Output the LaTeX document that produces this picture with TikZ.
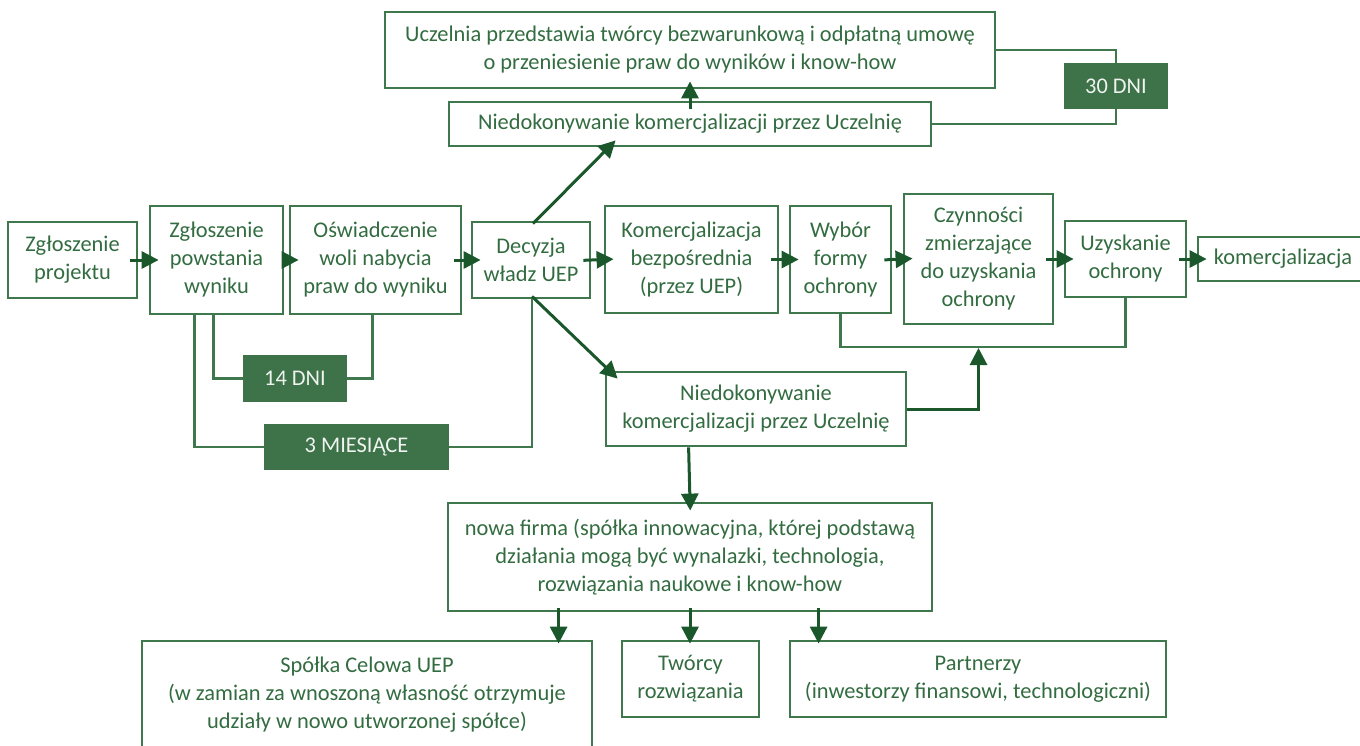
\documentclass[tikz,border=0pt]{standalone}
\usepackage{fontspec}
\setmainfont{Carlito}
\usetikzlibrary{arrows.meta,calc}
\definecolor{bord}{RGB}{62,120,76}
\definecolor{fillg}{RGB}{62,114,72}
\definecolor{arrc}{RGB}{26,88,44}
\definecolor{txt}{RGB}{50,108,64}
\begin{document}
\begin{tikzpicture}[x=0.5pt,y=-0.5pt,
  font=\fontsize{11.2pt}{14pt}\selectfont,
  box/.style={draw=bord,line width=1.4pt,text=txt,align=center,inner sep=0pt},
  dbox/.style={fill=fillg,text=white!92!fillg,align=center,inner sep=0pt},
  conn/.style={draw=bord,line width=1.3pt},
  arr/.style={draw=arrc,line width=1.5pt,-{Triangle[length=8.5pt,width=8.5pt]}},
  harr/.style={arr,shorten <=-4pt,shorten >=-5pt}]
\useasboundingbox (0,0) rectangle (1360,745);
% main row
\node[box,minimum width=64.5pt,minimum height=38pt] (A) at (72.5,260) {Zgłoszenie\\projektu};
\node[box,minimum width=66.5pt,minimum height=54pt] (B) at (216.5,260) {Zgłoszenie\\powstania\\wyniku};
\node[box,minimum width=85.5pt,minimum height=54pt] (C) at (375.5,260) {Oświadczenie\\woli nabycia\\praw do wyniku};
\node[box,minimum width=59pt,minimum height=38pt] (D) at (531,260) {Decyzja\\władz UEP};
\node[box,minimum width=86.5pt,minimum height=53.5pt] (E) at (691.5,259.5) {Komercjalizacja\\bezpośrednia\\(przez UEP)};
\node[box,minimum width=50.5pt,minimum height=53.5pt] (F) at (840.5,259.5) {Wybór\\formy\\ochrony};
\node[box,minimum width=74.5pt,minimum height=65pt] (G) at (978.5,259) {Czynności\\zmierzające\\do uzyskania\\ochrony};
\node[box,minimum width=60.5pt,minimum height=38pt] (H) at (1125.5,259) {Uzyskanie\\ochrony};
\node[box,minimum width=85pt,minimum height=22pt] (I) at (1283,259) {komercjalizacja};
% top
\node[box,minimum width=305pt,minimum height=38pt] (T) at (690,50) {Uczelnia przedstawia twórcy bezwarunkową i odpłatną umowę\\o przeniesienie praw do wyników i know-how};
\node[box,minimum width=241pt,minimum height=22pt] (N1) at (690,124) {Niedokonywanie komercjalizacji przez Uczelnię};
\node[dbox,minimum width=52pt,minimum height=23pt] (D30) at (1116,86) {30 DNI};
% deadlines
\node[dbox,minimum width=52pt,minimum height=23.5pt] (D14) at (295,378.5) {14 DNI};
\node[dbox,minimum width=92.5pt,minimum height=23pt] (M3) at (356.5,447) {3 MIESIĄCE};
% lower
\node[box,minimum width=150pt,minimum height=37pt] (N2) at (756,409) {Niedokonywanie\\komercjalizacji przez Uczelnię};
\node[box,minimum width=242pt,minimum height=54pt] (NF) at (690,557) {nowa firma (spółka innowacyjna, której podstawą\\działania mogą być wynalazki, technologia,\\rozwiązania naukowe i know-how};
\node[box,minimum width=225pt,minimum height=53.5pt] (S) at (367,694.5) {Spółka Celowa UEP\\(w zamian za wnoszoną własność otrzymuje\\udziały w nowo utworzonej spółce)};
\node[box,minimum width=68.5pt,minimum height=38pt] (Tw) at (690.5,679) {Twórcy\\rozwiązania};
\node[box,minimum width=188pt,minimum height=38pt] (P) at (978,679) {Partnerzy\\(inwestorzy finansowi, technologiczni)};
% horizontal arrows
\draw[harr] (A.east) -- (B.west);
\draw[harr] (B.east) -- (C.west);
\draw[harr] (C.east) -- (D.west);
\draw[harr] (D.east) -- (E.west);
\draw[harr] (E.east) -- (F.west);
\draw[harr] (F.east) -- (G.west);
\draw[harr] (G.east) -- (H.west);
\draw[harr] (H.east) -- (I.west);
% deadline connectors
\coordinate (b14) at ($(B.south west)+(65,0)$);
\coordinate (c14) at ($(C.south west)+(84,0)$);
\coordinate (b3) at ($(B.south west)+(46,0)$);
\draw[conn] (b14) |- (D14.west);
\draw[conn] (c14) |- (D14.east);
\draw[conn] (b3) |- (M3.west);
\draw[conn] ($(D.south)+(1,0)$) |- (M3.east);
\draw[conn] (T.east) -| (D30.north);
\draw[conn] (N1.east) -| (D30.south);
% top arrows
\draw[arr] ($(N1.north)+(0,8)$) -- ($(T.south)+(0,-8)$);
\draw[arr] ($(D.north)+(2,3)$) -- ($(N1.south west)+(168,-7)$);
% lower diagonal
\draw[arr] ($(D.south)+(1,-3)$) -- ($(N2.north west)+(13,8)$);
% protection loop
\coordinate (j) at (978.5,347);
\draw[conn] (F.south) |- (j) -| (H.south);
\draw[arr] (N2.east) -| ($(j)+(0,1)$);
% down arrows
\draw[arr,shorten >=-4.5pt] ($(N2.south west)+(84,0)$) -- (NF.north);
\draw[arr,shorten <=-2pt,shorten >=-2pt] ($(NF.south west)+(112,0)$) -- ($(S.north west)+(418,0)$);
\draw[arr,shorten <=-2pt,shorten >=-2pt] (NF.south) -- (Tw.north -| NF.south);
\draw[arr,shorten <=-2pt,shorten >=-2pt] ($(NF.south west)+(372,0)$) -- ($(P.north west)+(30,0)$);
\end{tikzpicture}
\end{document}
